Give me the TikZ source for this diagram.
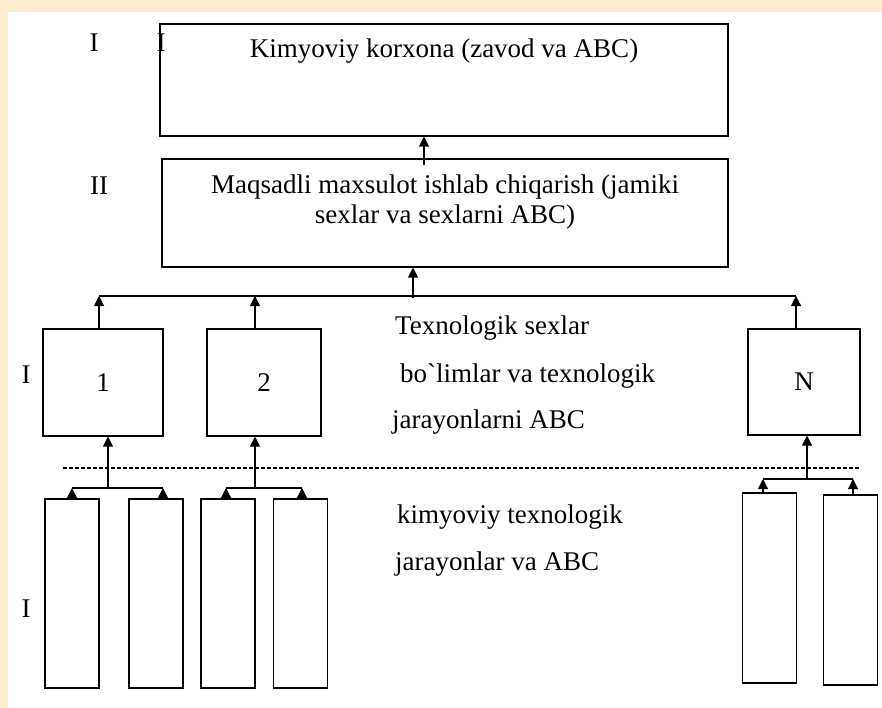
\documentclass[tikz,border=0pt]{standalone}
\usepackage{fontspec}
\setmainfont{Liberation Serif}[Ligatures=TeXOff]
\usetikzlibrary{arrows.meta, calc}
\definecolor{pagetone}{RGB}{252,236,206}

\begin{document}
\begin{tikzpicture}[
  x=1pt, y=-1pt,
  box/.style={draw, line width=1.1pt, inner sep=0pt, font=\fontsize{27}{30}\selectfont},
  cell/.style={draw, line width=1.1pt, inner sep=0pt, minimum width=54pt, minimum height=189pt},
  txt/.style={inner sep=0pt, font=\fontsize{27}{30}\selectfont},
  arr/.style={-{Triangle[length=10pt, width=10pt]}, line width=1.1pt},
  bus/.style={line width=1.1pt},
  sep/.style={line width=1.3pt, dash pattern=on 4pt off 2pt}
]
\useasboundingbox (0,0) rectangle (882,708);
\fill[pagetone] (0,0) rectangle (882,708);
\fill[white] (8,12) rectangle (882,708);

\node[txt, anchor=base] (lvA) at (94,52) {I};
\node[txt, anchor=base] (lvS) at (161,52) {I};
\node[txt, anchor=base] (lvB) at (99,195) {II};
\node[txt, anchor=base] (lvC) at (26,383) {I};
\node[txt, anchor=base] (lvD) at (26,617) {I};

\node[box, minimum width=568pt, minimum height=112pt] (plant) at (444,80) {};
\node[txt, anchor=base] (plantlbl) at (444,58) {Kimyoviy korxona (zavod va ABC)};
\node[box, minimum width=566pt, minimum height=108pt] (target) at (445,213) {};
\node[txt, align=center] (targetlbl) at (445,202) {Maqsadli maxsulot ishlab chiqarish (jamiki\\sexlar va sexlarni ABC)};

\node[box, minimum width=120pt, minimum height=107pt] (one) at (103,382.5) {1};
\node[box, minimum width=114pt, minimum height=107pt] (two) at (264,382.5) {2};
\node[box, minimum width=112pt, minimum height=106pt] (last) at (804,382) {N};

\node[txt, anchor=base west] (shoplbl1) at (395,334) {Texnologik sexlar};
\node[txt, anchor=base west] (shoplbl2) at (400,382) {bo`limlar va texnologik};
\node[txt, anchor=base west] (shoplbl3) at (392,428) {jarayonlarni ABC};

\node[cell] (cA) at (72,593.5) {};
\node[cell] (cB) at (156,593.5) {};
\node[cell] (cC) at (228,593.5) {};
\node[cell] (cD) at (300.5,593.5) {};
\node[cell, minimum height=190pt] (cE) at (769.5,588) {};
\node[cell, minimum height=190pt] (cF) at (850.5,590) {};

\node[txt, anchor=base west] (proclbl1) at (397,523) {kimyoviy texnologik};
\node[txt, anchor=base west] (proclbl2) at (395,570) {jarayonlar va ABC};

% upper links
\coordinate (upB) at (424,165);
\coordinate (topL) at (99,296);
\coordinate (topR) at (796,296);
\coordinate (topM) at (413,298);
\draw[arr] (upB) -- (upB |- plant.south);
\draw[bus] (topL) -- (topR);
\draw[arr] (topM) -- (topM |- target.south);
\draw[arr] (one.north -| topL) -- (topL);
\draw[arr] ([xshift=-9pt]two.north) -- ([xshift=-9pt]two.north |- topL);
\draw[arr] (last.north -| topR) -- (topR);

% separator
\coordinate (sepL) at (63,468);
\coordinate (sepR) at (860,468);
\draw[sep] (sepL) -- (sepR);

% lower links
\coordinate (g1) at (108,488);
\coordinate (g2) at (255,488);
\coordinate (g3) at (807,479);
\draw[bus] (cA.north |- g1) -- ([xshift=7pt]cB.north |- g1);
\draw[bus] ([xshift=-2pt]cC.north |- g2) -- ([xshift=1.5pt]cD.north |- g2);
\draw[bus] ([xshift=-6.5pt]cE.north |- g3) -- ([xshift=2.5pt]cF.north |- g3);
\draw[arr] (g1) -- (g1 |- one.south);
\draw[arr] (g2) -- (g2 |- two.south);
\draw[arr] (g3) -- (g3 |- last.south);
\draw[arr] (cA.north) -- (cA.north |- g1);
\draw[arr] ([xshift=7pt]cB.north) -- ([xshift=7pt]cB.north |- g1);
\draw[arr] ([xshift=-2pt]cC.north) -- ([xshift=-2pt]cC.north |- g2);
\draw[arr] ([xshift=1.5pt]cD.north) -- ([xshift=1.5pt]cD.north |- g2);
\draw[arr] ([xshift=-6.5pt]cE.north) -- ([xshift=-6.5pt]cE.north |- g3);
\draw[arr] ([xshift=2.5pt]cF.north) -- ([xshift=2.5pt]cF.north |- g3);
\end{tikzpicture}
\end{document}
